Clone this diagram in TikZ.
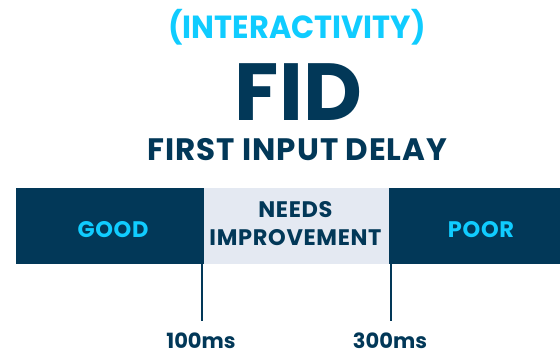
\documentclass[tikz,border=0pt]{standalone}
\usepackage{fontspec}
\setmainfont{Poppins}
\newfontfamily\widepop{Poppins}[LetterSpace=3]
\newfontfamily\narrowpop{Poppins}[FakeStretch=0.95]
\usetikzlibrary{positioning}
\definecolor{navy}{RGB}{2,56,88}
\definecolor{skyblue}{RGB}{16,204,255}
\definecolor{mist}{RGB}{228,233,242}

\begin{document}
\begin{tikzpicture}[
        x=1pt, y=-1pt,
        band/.style={draw=none, minimum height=76pt, inner sep=0pt, outer sep=0pt},
        rating/.style={anchor=base, inner sep=0pt, font=\widepop\bfseries\fontsize{22.5}{22.5}\selectfont},
        threshold/.style={anchor=base, inner sep=0pt, text=navy, font=\bfseries\fontsize{21}{21}\selectfont},
        tick/.style={draw=navy, line width=1.6pt}
        ]
        \useasboundingbox (0,0) rectangle (560,351);

        \node[anchor=base, inner sep=0pt, text=skyblue, font=\narrowpop\bfseries\fontsize{32}{32}\selectfont] (kind) at (297,38.6) {(INTERACTIVITY)};
        \node[anchor=base, inner sep=0pt, text=navy, font=\bfseries\fontsize{81}{81}\selectfont] (fid) at (298.5,120.7) {FID};
        \node[anchor=base, inner sep=0pt, text=navy, font=\widepop\bfseries\fontsize{31}{31}\selectfont] (full) at (297.5,160.7) {FIRST INPUT DELAY};

        \node[band, fill=navy, minimum width=188pt] (good) at (110,226) {};
        \node[band, fill=mist, minimum width=185pt, right=0pt of good] (improve) {};
        \node[band, fill=navy, minimum width=171pt, right=0pt of improve] (poor) {};

        \node[rating, text=skyblue] (goodtxt) at (113,237) {GOOD};
        \node[rating, text=navy] (needs) at (295.5,217.7) {NEEDS};
        \node[rating, text=navy] (imptxt) at (295.5,245.7) {IMPROVEMENT};
        \node[rating, text=skyblue] (poortxt) at (481,237) {POOR};

        \coordinate (top100) at (201.7,264);
        \coordinate (foot100) at (201.7,321);
        \coordinate (top300) at (390.7,264);
        \coordinate (foot300) at (390.7,321);
        \draw[tick] (top100) -- (foot100);
        \draw[tick] (top300) -- (foot300);

        \node[threshold] (ms100) at (201,348.5) {100ms};
        \node[threshold] (ms300) at (390,348.5) {300ms};
\end{tikzpicture}
\end{document}
